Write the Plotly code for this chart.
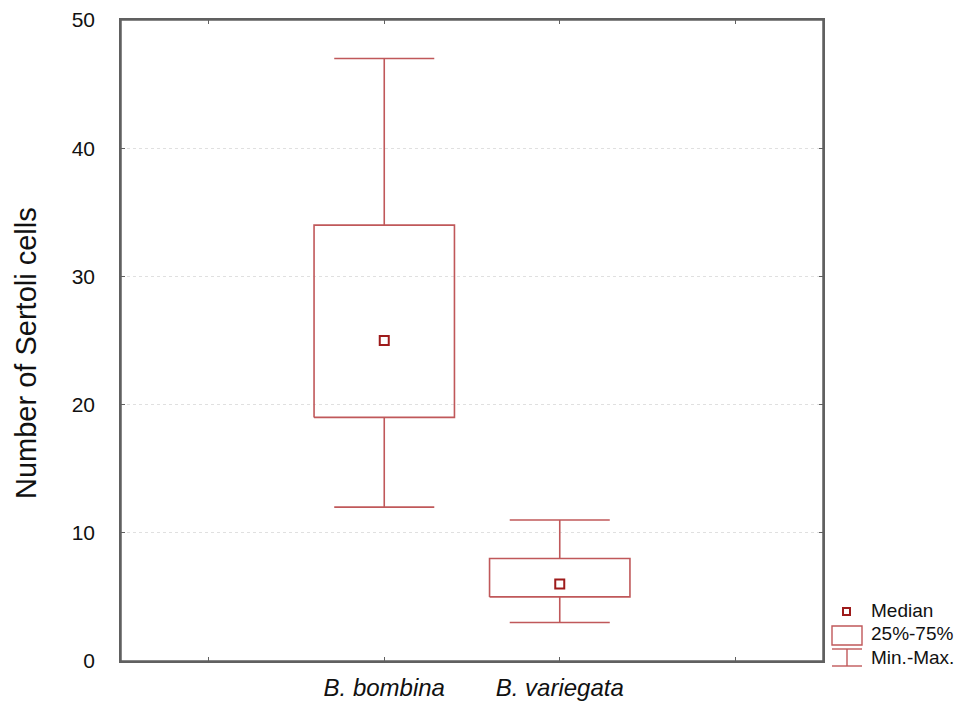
import plotly.graph_objects as go

categories = ["B. bombina", "B. variegata"]
positions = [1, 2]
minimum = [12, 3]
q1 = [19, 5]
median = [25, 6]
q3 = [34, 8]
maximum = [47, 11]

y_ticks = [0, 10, 20, 30, 40, 50]
y_title = "Number of Sertoli cells"

LINE = "#c0585a"
MED = "#9e1b1b"
BOX_HALF = 0.4
CAP_HALF = 0.285

fig = go.Figure()

for i, cat in enumerate(categories):
    p = positions[i]
    fig.add_trace(go.Scatter(
        x=[p - BOX_HALF, p + BOX_HALF, p + BOX_HALF, p - BOX_HALF, p - BOX_HALF],
        y=[q1[i], q1[i], q3[i], q3[i], q1[i]],
        mode="lines", line=dict(color=LINE, width=1.6),
        showlegend=False, hoverinfo="skip"))
    fig.add_trace(go.Scatter(
        x=[p, p, None, p, p, None,
           p - CAP_HALF, p + CAP_HALF, None, p - CAP_HALF, p + CAP_HALF],
        y=[q3[i], maximum[i], None, q1[i], minimum[i], None,
           maximum[i], maximum[i], None, minimum[i], minimum[i]],
        mode="lines", line=dict(color=LINE, width=1.6),
        showlegend=False, hoverinfo="skip"))

fig.add_trace(go.Scatter(
    x=positions, y=median, mode="markers",
    marker=dict(symbol="square-open", size=9, color=MED, line=dict(width=2, color=MED)),
    showlegend=False))

# page is offset by 8px body margin; target plot area 121..823 x 20..661 in window
OFF = 8
PL, PR, PT, PB = 121, 823, 20, 661

def px_x(x):
    return (x - PL) / (PR - PL)

def px_y(y):
    return (PB - y) / (PB - PT)

shapes = [
    dict(type="rect", xref="paper", yref="paper", x0=0, x1=1, y0=0, y1=1,
         line=dict(color="#606060", width=1.5)),
    dict(type="rect", xref="paper", yref="paper",
         x0=px_x(832), x1=px_x(862), y0=px_y(645), y1=px_y(626),
         line=dict(color=LINE, width=1.4)),
    dict(type="line", xref="paper", yref="paper",
         x0=px_x(832), x1=px_x(862), y0=px_y(649), y1=px_y(649),
         line=dict(color=LINE, width=1.4)),
    dict(type="line", xref="paper", yref="paper",
         x0=px_x(832), x1=px_x(862), y0=px_y(666), y1=px_y(666),
         line=dict(color=LINE, width=1.4)),
    dict(type="line", xref="paper", yref="paper",
         x0=px_x(847), x1=px_x(847), y0=px_y(649), y1=px_y(666),
         line=dict(color=LINE, width=1.4)),
    dict(type="rect", xref="paper", yref="paper",
         x0=px_x(843), x1=px_x(850), y0=px_y(615), y1=px_y(608),
         line=dict(color=MED, width=2)),
]

legend_labels = ["Median", "25%-75%", "Min.-Max."]
legend_y = [610, 633, 657]
annotations = []
for lab, ly in zip(legend_labels, legend_y):
    annotations.append(dict(
        text=lab, xref="paper", yref="paper", x=px_x(869), y=px_y(ly),
        xanchor="left", yanchor="middle", showarrow=False,
        font=dict(size=19, color="#111111", family="Liberation Sans, Arial")))

annotations.append(dict(
    text=y_title, xref="paper", yref="paper", x=px_x(26), y=px_y(353),
    xanchor="center", yanchor="middle", showarrow=False, textangle=-90,
    font=dict(size=29, color="#111111", family="Liberation Sans, Arial")))

fig.update_layout(
    width=971 - OFF, height=703 - OFF,
    margin=dict(l=PL - OFF, r=971 - PR, t=PT - OFF, b=703 - PB, pad=0),
    plot_bgcolor="white", paper_bgcolor="white",
    font=dict(family="Liberation Sans, Arial", color="#111111"),
    shapes=shapes, annotations=annotations,
    showlegend=False,
    xaxis=dict(
        range=[-0.5, 3.5],
        tickvals=[0, 1, 2, 3],
        ticktext=["", "<i>" + categories[0] + "</i>", "<i>" + categories[1] + "</i>", ""],
        ticks="inside", ticklen=4, tickcolor="#606060", tickwidth=1,
        showgrid=False, zeroline=False, mirror="ticks",
        showline=True, linecolor="#606060", linewidth=1.5,
        tickfont=dict(size=24, color="#111111"),
        ticklabelstandoff=4, automargin=False,
    ),
    yaxis=dict(
        range=[0, 50],
        tickvals=y_ticks,
        ticks="inside", ticklen=4, tickcolor="#606060", tickwidth=1,
        showgrid=True, gridcolor="#e0e0e0", griddash="dot", gridwidth=1,
        zeroline=False, mirror="ticks",
        showline=True, linecolor="#606060", linewidth=1.5,
        tickfont=dict(size=21, color="#111111"),
        ticklabelstandoff=20, automargin=False,
    ),
)

fig.write_html("out.html")
